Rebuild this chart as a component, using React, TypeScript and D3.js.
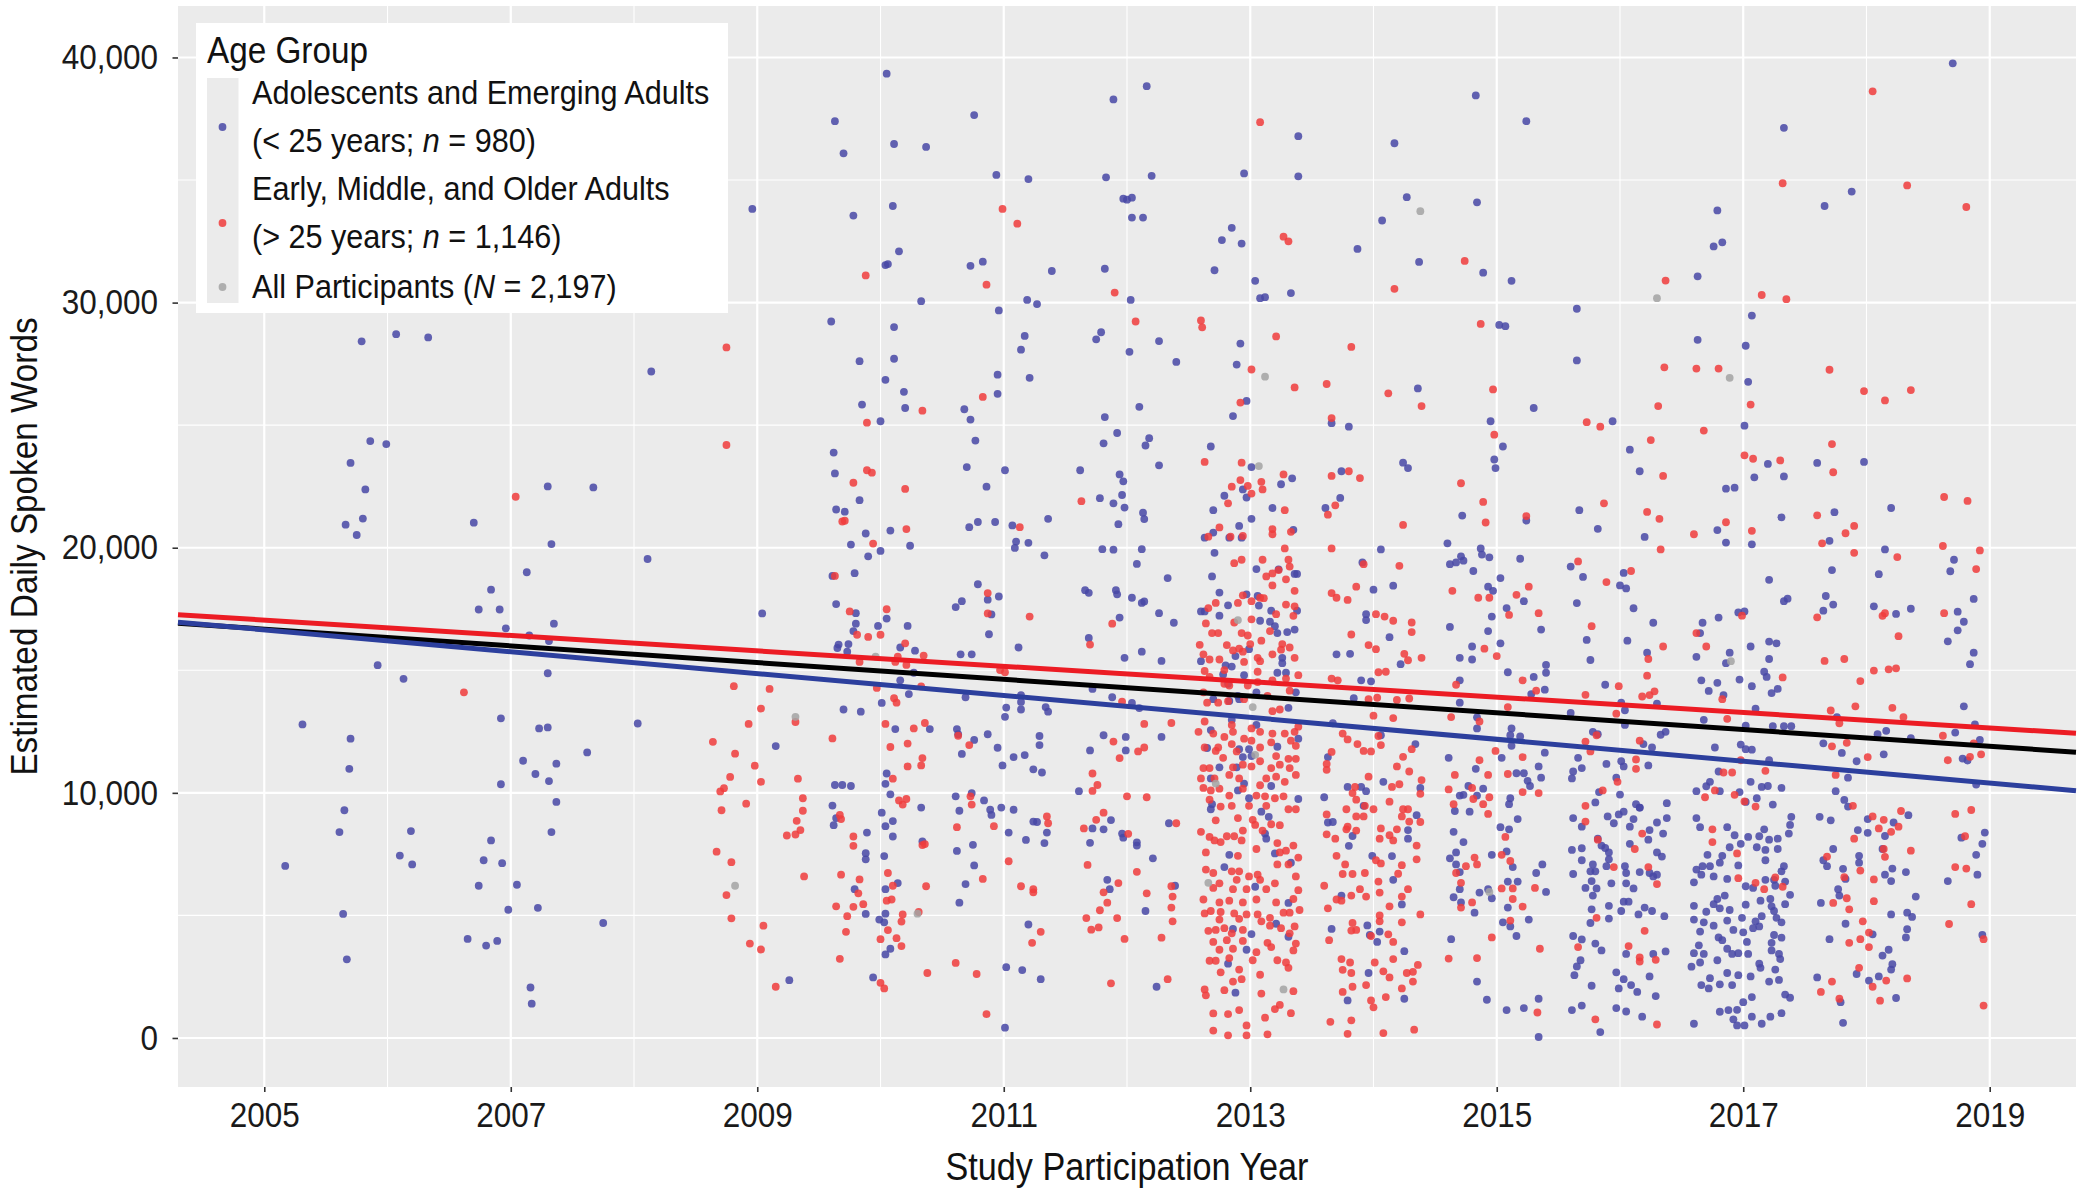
import * as d3 from "d3";
import { useEffect, useRef } from "react";

// each point: [study participation year, estimated daily spoken words in thousands]
const adolescents: [number, number][] = [
  // 2005-2008
  [2005.79,28.42],[2006.07,28.71],[2006.33,28.58],[2005.86,24.35],[2005.99,24.23],[2005.70,23.46],[2005.82,22.38],[2005.80,21.19],[2005.66,20.94],[2005.75,20.52],
  [2006.70,21.02],[2007.30,22.5],[2007.67,22.46],[2007.33,20.15],[2007.13,19.0],[2006.84,18.29],[2006.74,17.48],[2006.91,17.48],[2006.96,16.71],[2007.35,16.9],
  [2007.31,16.19],[2007.15,16.42],[2008.11,19.54],[2008.14,27.19],[2005.92,15.21],[2006.13,14.65],[2007.30,14.88],[2005.31,12.79],[2005.70,12.21],[2005.69,10.98],
  [2005.65,9.29],[2005.61,8.40],[2005.17,7.02],[2005.64,5.06],[2005.67,3.21],[2006.19,8.44],[2006.10,7.44],[2006.20,7.08],[2006.92,13.04],[2007.23,12.63],
  [2007.30,12.67],[2007.10,11.31],[2007.20,10.77],[2007.37,11.19],[2006.92,10.35],[2007.31,10.48],[2007.37,9.63],[2007.62,11.65],[2008.03,12.83],[2007.33,8.40],
  [2006.84,8.06],[2006.78,7.25],[2006.93,7.13],[2006.74,6.21],[2007.05,6.25],[2006.98,5.23],[2007.22,5.31],[2007.75,4.69],[2006.65,4.04],[2006.80,3.77],
  [2006.89,3.96],[2007.16,2.06],[2007.17,1.40],
  // 2009-2012 upper
  [2010.05,39.34],[2009.63,37.40],[2010.76,37.65],[2010.11,36.47],[2010.37,36.35],[2009.70,36.09],[2011.89,38.29],[2012.16,38.83],[2010.94,35.21],[2011.20,35.04],
  [2011.83,35.11],[2012.20,35.17],[2011.97,34.24],[2012.0,34.20],[2012.04,34.28],[2012.04,33.47],[2012.13,33.47],[2008.96,33.82],[2009.78,33.55],[2010.10,33.94],
  [2010.15,32.09],[2010.04,31.53],[2010.06,31.57],[2010.73,31.50],[2010.83,31.67],[2011.39,31.29],[2011.82,31.38],[2010.33,30.06],[2011.19,30.11],[2011.27,29.94],
  [2010.96,29.68],[2012.03,30.11],[2009.60,29.23],[2010.11,29.0],[2011.17,28.64],[2011.14,28.08],[2011.79,28.79],[2011.75,28.50],[2012.26,28.43],[2012.02,27.99],
  [2012.40,27.58],[2009.83,27.61],[2010.11,27.71],[2010.04,26.85],[2010.19,26.36],[2010.95,27.06],[2010.95,26.28],[2011.21,26.93],[2009.85,25.84],[2010.20,25.70],
  [2010.68,25.65],[2010.73,25.23],[2010.0,25.16],[2011.82,25.33],[2012.10,25.75],[2011.92,24.68],[2011.81,24.26],[2012.18,24.47],[2012.15,24.17],[2012.26,23.36],
  [2010.77,24.37],[2009.62,23.88],[2009.63,23.03],[2010.70,23.29],[2011.01,23.16],[2011.62,23.16],[2011.94,22.99],[2011.97,22.71],[2010.86,22.49],[2009.83,21.94],
  [2009.64,21.56],[2009.71,21.47],[2011.78,22.02],[2011.96,22.15],[2011.89,21.81],[2011.98,21.64],[2012.13,21.43],[2012.14,21.17],[2011.36,21.18],[2010.79,21.05],
  [2010.93,21.05],[2010.72,20.84],[2011.07,20.91],[2010.08,20.70],[2009.88,20.58],[2011.93,20.96],[2009.76,20.13],[2010.0,19.87],[2009.90,19.65],[2010.24,20.08],
  [2011.10,20.25],[2011.09,19.99],[2011.20,20.2],[2011.33,19.69],[2011.80,19.94],[2011.89,19.92],[2012.12,19.94],
  // 2009-2012 lower
  [2012.08,19.34],[2009.61,18.85],[2009.79,18.96],[2009.64,17.70],[2009.04,17.32],[2009.80,17.33],[2009.80,16.9],[2009.78,16.6],[2009.98,16.81],[2010.05,17.11],
  [2010.22,16.81],[2009.74,16.07],[2009.66,16.05],[2009.65,15.91],[2009.73,15.76],[2010.16,15.93],[2010.28,15.8],[2010.79,18.51],[2010.66,17.82],[2010.61,17.58],
  [2010.87,17.88],[2010.96,18.01],[2010.90,17.28],[2010.88,16.47],[2010.65,15.65],[2010.74,15.65],[2011.12,15.93],[2011.66,18.27],[2011.69,18.16],[2011.91,18.27],
  [2011.92,18.10],[2012.04,17.96],[2012.12,17.75],[2012.14,17.81],[2011.94,17.15],[2012.26,17.33],[2012.38,16.94],[2011.69,16.32],[2012.33,18.76],[2011.98,15.51],
  [2012.12,15.76],[2012.28,15.38],[2010.16,14.59],[2010.23,14.03],[2010.27,14.9],[2010.01,13.67],[2009.70,13.40],[2009.84,13.31],[2010.69,13.9],[2011.14,13.99],
  [2011.14,13.71],[2011.14,13.4],[2011.02,13.48],[2011.01,13.1],[2011.34,13.5],[2011.36,13.31],[2011.72,14.24],[2011.88,13.9],[2012.04,13.67],[2012.10,13.46],
  [2009.15,11.91],[2010.12,12.6],[2010.40,12.6],[2010.62,12.6],[2010.63,12.39],[2010.76,12.16],[2010.87,12.39],[2010.66,11.59],[2010.95,11.84],[2011.08,11.46],
  [2011.17,11.54],[2010.99,11.12],[2011.29,12.32],[2011.29,11.95],[2011.24,10.96],[2011.31,10.83],[2011.81,12.35],[2011.99,12.28],[2011.99,11.73],[2011.70,11.73],
  [2012.28,12.28],[2010.05,10.79],[2010.04,10.37],[2010.08,9.94],[2009.63,10.32],[2009.69,10.32],[2009.76,10.28],[2009.61,9.48],[2009.64,8.97],[2009.62,8.68],
  [2010.33,9.40],[2010.01,9.19],[2010.10,8.85],[2010.04,8.64],[2010.10,8.22],[2009.89,8.38],[2009.88,7.54],[2009.88,7.29],[2010.03,7.42],[2010.34,8.02],
  [2010.61,9.86],[2010.74,9.99],[2010.84,9.69],[2010.64,9.27],[2010.89,9.31],[2010.90,9.10],[2010.98,9.40],[2011.08,9.31],[2011.04,8.38],[2011.18,8.08],
  [2011.24,8.83],[2011.27,8.81],[2011.35,8.38],[2011.33,7.95],[2010.62,7.63],[2010.75,7.88],[2010.76,7.04],[2011.61,10.07],[2011.72,8.55],[2011.81,8.51],
  [2011.87,8.89],[2011.70,7.96],[2011.96,8.34],[2011.97,8.17],[2012.08,7.98],[2012.08,7.85],[2012.21,7.33],[2012.34,8.76],[2012.39,6.21],[2011.84,6.45],
  [2011.86,6.07],[2012.15,5.18],[2009.79,6.07],[2010.14,6.32],[2010.04,6.07],[2009.88,5.06],[2010.04,5.07],[2009.99,4.83],[2010.03,4.72],[2010.69,6.28],
  [2010.64,5.52],[2011.20,4.63],[2010.08,3.64],[2010.04,3.41],[2009.94,2.47],[2009.26,2.36],[2011.02,2.89],[2011.15,2.77],[2011.30,2.4],[2012.24,2.09],
  [2011.01,0.42],
  // 2013-2019 upper
  [2018.70,39.76],[2014.83,38.45],[2015.24,37.40],[2013.39,36.79],[2014.17,36.50],[2017.33,37.13],[2012.95,35.27],[2013.39,35.15],[2014.27,34.30],[2014.84,34.09],
  [2014.07,33.35],[2012.85,33.05],[2012.77,32.55],[2012.93,32.41],[2013.87,32.19],[2012.71,31.32],[2013.04,30.89],[2013.08,30.18],[2013.12,30.22],[2013.33,30.39],
  [2014.37,31.66],[2014.89,31.22],[2015.12,30.89],[2016.79,33.76],[2016.76,32.29],[2016.83,32.46],[2017.66,33.94],[2017.88,34.53],[2016.63,31.07],[2015.65,29.75],
  [2015.02,29.09],[2015.07,29.04],[2017.07,29.47],[2016.63,28.48],[2017.02,28.24],[2012.92,28.33],[2012.89,27.47],[2015.65,27.64],[2017.04,26.77],[2014.36,26.5],
  [2012.97,25.99],[2012.86,25.37],[2015.30,25.70],[2013.66,25.08],[2013.80,24.94],[2014.95,25.16],[2015.94,25.16],[2017.01,24.98],[2012.68,24.13],[2013.01,23.29],
  [2013.34,22.83],[2013.74,23.12],[2014.24,23.47],[2014.28,23.25],[2015.05,24.13],[2014.98,23.6],[2014.99,23.25],[2016.08,24.0],[2016.16,23.12],[2017.09,22.87],
  [2017.20,23.42],[2017.33,22.91],[2017.60,23.46],[2017.98,23.50],[2016.86,22.41],[2016.93,22.45],[2013.25,22.59],[2012.97,22.05],[2012.94,22.38],[2012.79,22.12],
  [2012.70,21.53],[2013.18,21.62],[2013.61,21.62],[2013.73,22.03],[2013.01,21.18],[2014.72,21.31],[2015.24,21.11],[2015.67,21.53],[2015.82,20.77],[2017.74,21.45],
  [2018.20,21.62],[2017.31,21.24],[2016.79,20.72],[2016.20,20.44],[2012.91,20.89],[2012.70,20.62],[2012.63,20.41],[2012.83,20.41],[2012.93,20.41],[2013.35,20.73],
  // 2013 cluster
  [2012.71,19.79],[2012.69,18.83],[2013.05,19.13],[2013.23,19.12],[2013.36,18.93],[2013.38,18.93],[2012.75,18.17],[2012.97,18.1],[2013.06,18.03],[2012.82,17.65],
  [2013.07,17.64],[2012.60,17.4],[2012.63,17.4],[2012.75,17.23],[2013.17,17.43],[2013.38,17.43],[2013.08,17.02],[2013.16,16.98],[2013.20,16.8],[2013.22,16.52],
  [2013.30,16.56],[2013.36,16.66],[2012.99,15.86],[2012.80,15.2],[2012.85,15.15],[2012.88,15.58],[2013.26,15.51],[2013.26,15.29],[2012.60,15.37],[2013.22,14.9],
  [2013.29,14.9],[2012.78,14.83],[2012.95,14.8],[2012.82,14.45],[2012.90,13.96],[2012.70,13.82],[2012.83,13.75],[2012.91,13.82],[2013.05,14.1],[2013.31,13.47],
  [2013.37,14.1],[2012.68,12.56],[2013.05,12.77],[2012.85,12.98],[2013.39,12.21],[2012.65,11.83],[2012.91,11.78],[2012.99,11.78],[2013.22,11.88],[2012.75,11.04],
  [2012.89,11.04],[2013.01,11.5],[2012.94,11.46],[2012.68,10.59],[2012.95,10.38],[2013.17,10.28],[2012.90,10.1],[2012.99,9.78],[2013.39,9.75],[2012.69,9.54],
  [2012.68,9.33],[2013.09,9.23],[2013.15,9.02],[2013.12,8.34],[2013.13,8.13],[2012.83,7.47],[2013.20,7.53],[2013.33,7.15],[2012.79,6.97],[2013.04,6.17],
  [2013.31,5.51],[2013.21,4.66],[2012.86,4.45],[2013.01,4.24],[2013.31,4.13],[2012.97,3.6],[2012.82,3.03],[2012.88,1.85],
  // 2014 cluster
  [2014.06,19.93],[2013.91,19.4],[2014.0,18.29],[2014.16,18.45],[2013.94,17.29],[2013.94,17.05],[2014.13,16.35],[2013.70,15.65],[2013.81,15.67],[2014.22,15.25],
  [2013.90,14.59],[2013.98,14.55],[2013.84,13.86],[2013.67,12.84],[2014.06,12.35],[2014.34,11.99],[2013.63,11.46],[2013.79,10.24],[2013.90,10.24],[2013.94,10.07],
  [2014.08,10.45],[2014.38,10.2],[2013.60,9.82],[2013.92,9.47],[2013.63,8.79],[2013.67,8.81],[2013.83,8.24],[2013.80,7.84],[2014.28,8.48],[2014.28,8.13],
  [2014.35,9.09],[2013.99,7.43],[2014.15,7.42],[2014.16,6.45],[2013.74,5.81],[2014.23,5.45],[2013.66,4.45],[2013.95,4.59],[2014.05,4.34],[2013.97,4.2],
  [2014.03,3.92],[2014.25,3.54],[2013.96,2.65],[2013.79,1.53],[2014.25,1.6],
  // 2015 cluster
  [2014.60,20.18],[2014.62,19.33],[2014.67,19.4],[2014.71,19.65],[2014.73,19.47],[2014.87,19.97],[2014.88,19.72],[2014.94,19.61],[2014.81,19.05],[2015.19,19.55],
  [2015.03,18.76],[2014.93,18.41],[2014.97,18.24],[2015.22,17.82],[2015.08,17.54],[2014.96,17.19],[2014.93,16.6],[2015.03,16.1],[2014.80,15.97],[2014.62,16.77],
  [2014.70,15.51],[2014.80,15.44],[2015.36,16.66],[2015.40,15.22],[2015.40,14.9],[2015.09,14.92],[2015.30,14.73],[2015.39,14.21],[2014.70,14.59],[2014.70,13.68],
  [2015.28,14.03],[2014.84,13.08],[2014.84,12.63],[2015.12,12.63],[2015.11,12.35],[2015.19,12.3],[2015.12,11.92],[2015.39,11.64],[2014.61,11.43],[2014.83,10.98],
  [2015.04,11.43],[2015.16,10.8],[2015.22,10.8],[2015.25,10.49],[2015.27,10.28],[2015.36,10.62],[2015.34,11.08],[2014.77,10.28],[2014.89,10.17],[2014.70,9.89],
  [2014.73,9.92],[2014.84,9.89],[2015.11,9.78],[2015.10,9.54],[2014.66,9.26],[2014.78,9.23],[2015.03,8.6],[2015.17,8.93],[2015.10,8.51],[2014.65,8.41],
  [2014.73,7.99],[2014.62,7.33],[2014.67,7.57],[2014.67,7.08],[2014.70,6.77],[2014.96,7.47],[2015.08,7.61],[2015.13,6.97],[2015.37,7.08],[2015.32,6.73],
  [2014.70,6.07],[2014.86,5.93],[2014.93,6.07],[2014.96,5.7],[2015.09,6.38],[2015.17,6.38],[2015.40,5.96],[2014.65,5.74],[2014.71,5.53],[2014.82,5.11],
  [2015.09,5.32],[2015.05,4.72],[2015.11,4.55],[2015.16,4.16],[2015.26,4.83],[2014.63,4.03],[2014.84,2.3],[2014.92,1.56],[2015.08,1.14],[2015.22,1.22],
  [2015.34,1.6],[2015.34,0.04],
  // 2016 cluster
  [2015.60,19.23],[2015.70,18.81],[2015.65,17.74],[2015.73,16.24],[2015.76,15.42],[2016.03,18.97],[2016.0,18.46],[2016.05,18.34],[2016.11,17.53],[2016.06,16.21],
  [2015.60,13.26],[2015.88,14.41],[2016.01,13.68],[2016.04,13.37],[2015.78,12.49],[2015.82,12.39],[2016.04,12.77],[2015.66,11.43],[2015.62,10.87],[2015.69,11.01],
  [2015.61,10.59],[2015.89,11.18],[2016.01,11.29],[2016.03,11.08],[2015.97,10.62],[2015.83,10.03],[2016.0,9.93],[2015.80,9.61],[2016.13,9.54],[2016.16,9.4],
  [2015.62,8.97],[2015.69,8.62],[2015.90,9.04],[2015.95,8.76],[2015.99,9.12],[2016.03,9.23],[2016.08,8.62],[2016.11,8.93],[2015.82,8.13],[2015.85,7.85],
  [2015.88,7.75],[2015.91,7.57],[2016.08,7.92],[2015.61,7.67],[2015.69,7.74],[2015.69,7.25],[2015.91,7.29],[2015.89,7.01],[2015.78,7.08],[2015.80,6.8],
  [2015.76,6.8],[2016.04,7.01],[2016.05,6.73],[2015.62,6.69],[2015.77,6.4],[2015.72,6.12],[2015.78,5.81],[2015.93,6.31],[2016.05,6.31],[2016.11,6.1],
  [2015.81,6.1],[2016.03,5.56],[2016.07,5.56],[2016.01,5.18],[2015.91,5.39],[2015.77,5.25],[2015.91,4.87],[2016.15,5.04],[2015.76,4.69],[2015.62,4.16],
  [2015.69,4.02],[2015.80,3.85],[2015.85,3.57],[2015.68,3.17],[2015.65,2.92],[2015.63,2.56],[2015.77,2.13],[2015.97,2.68],[2016.03,2.4],[2015.99,2.02],
  [2016.05,3.43],[2016.09,2.16],[2016.14,1.88],[2015.61,1.14],[2015.69,1.32],[2015.84,0.24],[2015.97,1.22],[2016.05,1.08],
  [2016.27,16.94],[2016.22,15.72],[2016.30,13.64],[2016.37,12.49],[2016.33,12.37],[2016.19,11.99],[2016.26,11.85],[2016.23,11.12],[2016.16,9.4],[2016.30,8.79],
  [2016.38,9.58],[2016.38,8.97],[2016.24,8.48],[2016.23,8.09],[2016.35,8.34],[2016.30,7.57],[2016.34,7.4],[2016.16,6.77],[2016.24,6.73],[2016.27,6.59],
  [2016.30,6.66],[2016.20,5.32],[2016.26,5.18],[2016.36,4.97],[2016.27,3.43],[2016.37,3.53],[2016.24,2.51],[2016.29,1.71],[2016.18,0.87],
  // 2017 cluster
  [2016.86,20.21],[2017.07,20.14],[2017.21,18.69],[2017.33,17.82],[2017.36,17.92],[2016.67,16.94],[2016.80,17.15],[2016.96,17.36],[2017.01,17.4],[2016.65,16.52],
  [2016.62,15.55],[2016.89,15.72],[2016.86,15.29],[2017.06,15.97],[2017.21,16.17],[2017.27,16.1],[2017.21,15.46],[2017.17,14.94],[2017.19,14.73],[2016.66,14.59],
  [2016.79,14.49],[2016.72,14.16],[2016.84,13.99],[2016.97,14.62],[2017.07,14.35],[2017.23,14.07],[2017.28,14.24],[2017.10,13.43],[2016.68,12.98],[2017.02,12.74],
  [2017.24,12.72],[2017.33,12.72],[2017.39,12.72],[2016.77,11.85],[2016.98,11.97],[2017.02,11.78],[2017.07,11.76],[2017.21,11.33],[2016.80,10.87],[2016.62,10.07],
  [2016.70,10.27],[2016.73,10.45],[2016.81,10.07],[2016.97,10.03],[2017.06,10.45],[2017.15,10.24],[2017.20,10.28],[2017.31,10.2],[2017.11,9.78],[2017.24,9.52],
  [2017.02,9.63],[2016.62,8.97],[2016.65,8.6],[2016.87,8.6],[2016.93,8.27],[2017.04,8.2],[2017.13,8.23],[2017.17,8.51],[2017.21,8.09],[2017.28,8.13],
  [2017.37,8.34],[2017.38,8.69],[2017.39,9.02],[2016.71,7.47],[2016.81,7.15],[2016.83,7.43],[2016.89,7.78],[2016.98,7.92],[2017.11,7.78],[2017.18,7.67],
  [2017.28,7.71],[2017.18,7.25],[2016.96,7.04],[2016.62,6.87],[2016.67,7.01],[2016.73,7.01],[2016.66,6.66],[2016.76,6.59],[2016.60,6.35],[2016.87,6.49],
  [2017.02,6.19],[2017.08,6.12],[2017.18,6.45],[2017.25,6.45],[2017.26,6.21],[2017.31,6.8],[2017.33,7.01],[2017.34,6.38],[2017.38,5.84],[2016.79,5.67],
  [2016.85,5.81],[2016.76,5.46],[2016.81,5.29],[2016.89,5.22],[2016.60,5.39],[2016.70,5.15],[2017.02,5.44],[2017.14,5.6],[2017.22,5.67],[2017.23,5.37],
  [2017.25,5.18],[2017.34,5.46],[2016.60,4.83],[2016.68,4.72],[2016.76,4.58],[2016.87,4.79],[2016.99,4.9],[2017.10,4.76],[2017.08,4.48],[2017.13,4.55],
  [2017.15,4.97],[2017.27,4.9],[2017.31,4.72],[2016.65,4.34],[2016.80,4.1],[2016.83,3.99],[2016.92,4.41],[2017.0,4.31],[2017.03,3.92],[2017.25,4.2],
  [2017.31,4.09],[2017.23,3.88],[2016.64,3.78],[2016.60,3.46],[2016.68,3.43],[2016.87,3.64],[2016.91,3.43],[2016.96,3.46],[2017.04,3.43],[2017.13,3.03],
  [2017.23,3.57],[2017.29,3.43],[2017.30,3.22],[2016.58,2.91],[2016.65,3.08],[2016.79,3.17],[2016.87,2.65],[2016.96,2.56],[2017.06,2.51],[2017.14,2.86],
  [2017.26,2.79],[2016.73,2.44],[2016.66,2.16],[2016.72,2.02],[2016.81,2.19],[2016.91,2.16],[2017.21,2.3],[2017.29,2.37],[2017.34,1.77],[2017.38,1.64],
  [2017.07,1.67],[2017.0,1.46],[2016.81,1.07],[2016.88,1.14],[2016.95,1.15],[2016.92,0.76],[2016.95,0.51],[2017.01,0.51],[2017.07,0.87],[2017.15,0.58],
  [2017.22,0.87],[2017.31,1.01],[2016.60,0.58],
  // 2018 cluster
  [2017.72,19.09],[2017.67,18.03],[2017.73,17.68],[2017.65,17.43],[2018.06,17.61],[2018.10,18.92],[2018.15,19.93],[2018.24,17.3],[2018.36,17.51],[2017.70,20.28],
  [2017.76,13.09],[2017.65,12.02],[2017.80,11.63],[2017.92,11.29],[2017.85,10.62],[2018.09,12.39],[2018.16,12.53],[2018.14,11.57],[2018.36,12.23],[2017.75,10.07],
  [2017.82,9.71],[2017.85,9.44],[2017.62,9.02],[2017.71,8.88],[2018.01,8.93],[2017.93,8.48],[2018.01,8.37],[2018.15,8.24],[2018.22,8.79],[2018.34,9.09],
  [2017.73,7.71],[2017.65,7.25],[2017.68,7.01],[2017.81,6.9],[2017.83,6.49],[2017.94,7.43],[2017.94,7.15],[2018.13,7.71],[2018.15,6.66],[2018.20,6.4],
  [2018.21,6.91],[2018.32,6.77],[2017.77,6.07],[2017.78,5.81],[2017.63,5.51],[2017.83,4.66],[2017.70,4.03],[2018.05,4.23],[2018.20,5.04],[2018.33,5.11],
  [2018.37,4.94],[2018.40,5.77],[2018.33,4.44],[2018.32,4.1],[2018.18,3.6],[2018.13,3.36],[2018.21,3.01],[2018.20,2.79],[2017.60,2.47],[2017.92,2.61],
  [2018.02,2.34],[2018.10,2.51],[2017.79,1.46],[2017.81,0.62],[2018.24,1.63],
  // 2019 cluster
  [2018.71,19.51],[2018.68,19.04],[2018.87,17.91],[2018.74,17.39],[2018.79,16.98],[2018.74,16.63],[2018.66,16.18],[2018.87,15.72],[2018.84,15.25],[2018.79,13.53],
  [2018.72,12.46],[2018.88,12.79],[2018.92,12.16],[2018.78,11.4],[2018.82,11.32],[2018.89,10.34],[2018.77,8.17],[2018.96,8.38],[2018.94,7.92],[2018.89,7.47],
  [2018.90,6.66],[2018.66,6.4],[2018.94,4.2],
];

const adults: [number, number][] = [
  // 2005-2009
  [2007.04,22.08],[2006.62,14.1],[2008.75,28.17],[2008.75,24.19],[2008.81,14.35],[2008.64,12.08],[2008.82,11.6],[2008.78,10.65],[2008.73,10.19],[2008.70,10.06],
  [2008.71,9.29],[2008.67,7.6],[2008.79,7.17],[2008.75,5.83],[2008.79,4.88],
  // 2009-2012
  [2010.99,33.82],[2011.11,33.22],[2009.88,31.11],[2010.86,30.73],[2011.90,30.41],[2012.07,29.23],[2010.83,26.15],[2010.34,25.59],[2009.89,25.10],[2009.89,23.16],
  [2009.93,23.06],[2009.78,22.65],[2010.20,22.40],[2011.63,21.9],[2009.69,21.07],[2009.71,21.10],[2010.21,20.76],[2011.13,20.84],[2009.94,20.17],
  [2009.63,18.85],[2009.75,17.40],[2010.05,17.49],[2009.81,16.45],[2009.90,16.36],[2010.0,16.45],[2010.20,16.1],[2010.14,15.56],[2010.12,15.34],[2010.35,15.6],
  [2009.83,15.34],[2010.21,15.22],[2010.87,18.15],[2010.87,17.32],[2011.21,17.19],[2011.88,16.9],[2011.70,16.05],[2010.97,15.01],[2011.01,14.92],[2009.97,14.28],
  [2010.11,13.86],[2010.13,13.68],[2010.33,14.34],[2009.10,14.24],[2009.03,13.44],[2008.93,12.81],[2009.31,12.89],[2009.61,12.22],[2008.98,11.11],[2009.03,10.45],
  [2009.33,10.58],[2008.91,9.56],[2009.37,9.78],[2009.37,9.27],[2009.32,8.86],[2009.35,8.48],[2009.31,8.30],[2009.24,8.26],[2009.38,6.59],[2009.05,4.58],
  [2008.94,3.85],[2009.03,3.61],[2009.15,2.09],[2010.04,12.81],[2010.27,12.63],[2010.36,12.85],[2010.08,11.87],[2010.22,12.01],[2010.22,11.08],[2010.33,11.12],
  [2010.34,11.42],[2010.10,10.58],[2010.15,9.69],[2010.18,9.52],[2010.21,9.75],[2009.78,8.22],[2009.78,7.84],[2009.67,9.1],[2009.68,8.93],[2010.34,7.87],
  [2010.36,7.91],[2010.06,6.73],[2010.10,6.21],[2009.68,6.66],[2009.83,6.47],[2009.82,5.9],[2009.86,5.46],[2009.78,5.35],[2009.64,5.37],[2009.73,4.97],
  [2009.72,4.33],[2010.09,5.65],[2010.05,5.6],[2010.18,5.04],[2010.17,4.75],[2010.06,4.4],[2010.0,4.03],[2010.13,4.07],[2010.17,3.75],[2010.31,5.14],
  [2010.37,6.19],[2009.67,3.23],[2010.0,2.25],[2010.03,2.02],[2010.38,2.65],[2010.62,8.6],[2010.92,8.64],[2010.73,9.86],[2010.74,9.52],[2010.63,12.33],
  [2010.72,11.95],[2010.83,6.49],[2011.04,7.21],[2011.14,6.19],[2011.24,6.07],[2011.24,5.94],[2011.30,4.33],[2011.23,3.88],[2010.61,3.06],[2010.78,2.61],
  [2010.86,0.97],[2011.35,9.04],[2011.36,8.76],[2012.14,12.81],[2012.36,12.85],[2011.89,12.09],[2011.94,11.42],[2012.09,11.69],[2012.14,11.85],[2011.72,10.79],
  [2011.76,10.32],[2011.72,10.08],[2012.0,9.86],[2012.16,9.82],[2011.81,9.19],[2011.75,8.9],[2011.65,8.55],[2012.01,8.33],[2012.40,8.76],[2011.68,7.06],
  [2012.08,6.78],[2011.93,6.32],[2011.81,5.94],[2011.84,5.52],[2011.78,5.21],[2012.16,5.9],[2012.36,6.19],[2012.37,5.77],[2012.36,5.32],[2012.37,4.76],
  [2011.67,4.89],[2011.71,4.42],[2011.77,4.51],[2011.92,4.89],[2011.98,4.04],[2012.28,4.09],[2011.87,2.23],[2012.33,2.4],[2011.96,13.72],
  // 2013-2019 upper
  [2018.05,38.62],[2013.08,37.36],[2017.32,34.87],[2018.33,34.78],[2018.81,33.90],[2013.27,32.69],[2013.31,32.5],[2014.74,31.7],[2014.17,30.56],[2016.37,30.9],
  [2017.15,30.31],[2017.35,30.14],[2012.60,29.27],[2012.61,28.99],[2013.21,28.62],[2013.82,28.19],[2014.87,29.13],[2013.01,27.27],[2013.36,26.54],[2013.62,26.68],
  [2014.12,26.3],[2014.39,25.78],[2014.97,26.46],[2016.36,27.36],[2016.62,27.31],[2016.80,27.31],[2017.70,27.26],[2017.98,26.39],[2018.15,26.01],[2018.36,26.43],
  [2016.31,25.78],[2017.06,25.84],[2012.92,25.92],[2013.66,25.29],[2015.73,25.12],[2015.84,24.94],[2014.98,24.61],[2016.68,24.78],[2016.25,24.39],[2017.72,24.23],
  [2017.01,23.77],[2017.08,23.63],[2017.30,23.56],[2017.73,23.08],[2016.35,22.93],[2012.63,23.50],[2012.93,23.47],[2013.27,22.99],[2013.66,22.93],[2013.80,23.12],
  [2013.89,22.84],[2012.92,22.76],[2013.09,22.69],[2012.98,22.52],[2013.10,22.38],[2012.85,22.49],[2013.01,22.21],[2012.82,21.81],[2013.28,21.53],[2013.69,21.73],
  [2013.63,21.35],[2014.71,22.63],[2014.89,21.87],[2014.91,21.03],[2015.24,21.29],[2014.24,20.93],[2015.87,21.81],[2016.22,21.46],[2016.32,21.18],[2016.86,21.04],
  [2017.07,20.69],[2016.60,20.55],[2017.60,21.32],[2017.90,20.89],[2017.83,20.59],[2018.63,22.07],[2018.82,21.91],[2012.75,20.83],[2012.66,20.45],[2012.84,20.45],
  [2012.94,20.48],[2013.18,20.76],[2013.18,20.55],[2013.33,20.65],
  // 2013 cluster
  [2013.28,19.97],[2012.87,19.37],[2012.93,19.51],[2013.10,19.51],[2013.31,19.51],[2013.32,19.23],[2013.13,18.83],[2013.29,18.71],[2013.18,18.95],[2013.23,19.09],
  [2013.18,18.46],[2013.36,18.24],[2012.72,17.75],[2012.94,18.06],[2013.01,17.82],[2013.11,17.94],[2013.08,17.96],[2013.29,17.68],[2013.36,17.61],[2012.90,17.75],
  [2012.66,17.54],[2012.64,16.91],[2012.87,16.95],[2013.01,17.08],[2013.21,17.29],[2013.35,17.22],[2013.09,16.21],[2012.69,16.52],[2012.74,16.52],[2012.93,16.52],
  [2012.98,16.42],[2013.16,16.6],[2012.59,16.04],[2012.81,16.03],[2012.86,15.81],[2012.91,15.88],[2012.94,15.76],[2013.0,16.07],[2013.26,16.07],[2013.32,15.93],
  [2012.62,15.65],[2012.67,15.44],[2012.75,15.44],[2013.06,15.51],[2013.08,15.37],[2013.36,15.51],[2013.18,15.65],[2012.63,14.97],[2012.79,15.01],[2012.95,15.34],
  [2013.06,14.94],[2013.25,15.84],[2012.67,14.73],[2012.79,14.45],[2012.83,14.38],[2012.98,14.38],[2013.06,14.52],[2013.18,14.59],[2013.29,14.66],[2012.62,14.1],
  [2012.74,13.68],[2012.82,13.74],[2012.95,13.82],[2013.14,13.96],[2013.32,14.17],[2013.39,14.8],[2013.24,13.4],[2013.18,13.33],[2012.65,13.68],[2012.63,12.91],
  [2012.85,12.77],[2013.01,12.63],[2013.39,12.7],[2012.70,12.42],[2012.79,12.28],[2012.86,12.49],[2012.95,12.21],[2013.08,12.49],[2013.18,12.42],[2013.28,12.42],
  [2013.36,12.49],[2012.63,11.85],[2012.74,11.85],[2012.85,11.99],[2013.01,12.13],[2013.08,11.85],[2013.17,12.06],[2013.33,12.13],[2013.37,11.92],[2012.58,12.49],
  [2012.72,11.71],[2012.78,11.43],[2012.89,11.69],[2013.08,11.29],[2013.21,11.5],[2013.24,11.15],[2013.31,11.39],[2013.37,11.39],[2012.62,11.01],[2012.67,11.01],
  [2012.86,11.04],[2012.94,11.15],[2013.01,11.08],[2013.17,11.01],[2013.32,11.01],[2012.60,10.59],[2012.71,10.59],[2012.83,10.73],[2012.91,10.59],[2013.13,10.59],
  [2013.21,10.66],[2013.28,10.45],[2013.37,10.73],[2013.08,10.31],[2012.62,10.2],[2012.68,10.1],[2012.75,10.17],[2012.83,9.89],[2012.94,10.17],[2013.05,9.89],
  [2013.12,9.86],[2013.20,9.78],[2013.27,9.86],[2012.67,9.72],[2012.76,9.44],[2012.85,9.47],[2012.99,9.47],[2013.13,9.47],[2013.31,9.33],[2012.72,8.88],
  [2012.90,8.97],[2013.02,8.9],[2013.17,8.72],[2013.24,8.68],[2013.37,9.33],[2012.60,8.41],[2012.67,8.2],[2012.76,7.99],[2012.81,8.23],[2012.87,8.23],
  [2012.94,8.46],[2013.04,8.69],[2013.10,8.46],[2013.22,7.95],[2013.29,7.64],[2013.35,7.85],[2012.64,7.57],[2012.71,8.06],[2012.93,8.06],[2012.90,7.43],
  [2013.05,7.71],[2013.24,7.57],[2013.39,7.36],[2013.22,7.08],[2012.64,6.87],[2012.70,6.73],[2012.85,6.8],[2012.91,6.8],[2013.06,6.66],[2013.31,7.08],
  [2013.37,6.59],[2012.75,6.31],[2012.89,6.45],[2012.99,6.59],[2013.08,6.45],[2013.20,6.31],[2012.70,6.12],[2012.86,6.07],[2012.97,6.07],[2013.13,6.07],
  [2013.39,6.03],[2012.62,5.65],[2012.75,5.53],[2012.83,5.6],[2012.94,5.53],[2013.05,5.65],[2013.21,5.53],[2013.35,5.67],[2012.63,5.08],[2012.68,5.18],
  [2012.76,5.14],[2012.87,5.08],[2012.97,5.04],[2013.06,5.04],[2013.16,4.9],[2013.27,5.11],[2013.32,5.11],[2013.40,5.22],[2012.75,4.83],[2012.91,4.86],
  [2013.09,4.76],[2012.66,4.37],[2012.72,4.41],[2012.79,4.48],[2012.85,4.27],[2012.94,4.41],[2013.16,4.58],[2013.25,4.48],[2013.36,4.55],[2012.70,3.92],
  [2012.81,3.99],[2012.94,3.96],[2013.14,3.88],[2013.32,4.27],[2013.37,3.85],[2012.75,3.6],[2012.86,3.64],[2013.05,3.5],[2013.17,3.71],[2013.35,3.57],
  [2012.67,3.15],[2012.72,3.15],[2012.83,3.26],[2013.02,3.17],[2013.22,3.17],[2013.29,3.08],[2012.76,2.68],[2012.91,2.79],[2013.08,2.58],[2013.31,2.86],
  [2012.86,2.3],[2012.93,2.4],[2012.63,1.98],[2012.79,1.95],[2012.64,1.74],[2013.09,1.81],[2013.35,1.91],[2013.20,1.18],[2012.91,1.14],[2012.70,1.0],
  [2012.82,0.97],[2013.24,1.35],[2013.33,1.01],[2013.12,0.83],[2012.97,0.51],[2012.70,0.3],[2012.82,0.11],[2012.97,0.11],[2013.14,0.15],
  // 2014 cluster
  [2013.66,19.97],[2013.86,18.41],[2013.66,18.15],[2013.70,17.96],[2013.79,17.87],[2014.21,19.26],[2013.92,19.33],[2013.82,16.46],[2013.96,16.03],[2014.02,17.29],
  [2014.09,17.19],[2014.16,17.02],[2014.31,16.95],[2014.31,16.56],[2014.02,15.86],[2014.25,15.67],[2014.28,15.41],[2014.39,15.51],[2014.04,14.92],[2014.10,14.94],
  [2013.66,14.66],[2013.71,14.59],[2013.96,13.82],[2014.03,13.88],[2014.19,13.79],[2014.29,13.85],[2014.0,13.15],[2014.16,13.05],[2013.75,12.42],[2013.79,12.18],
  [2013.87,11.99],[2013.92,11.71],[2013.98,11.69],[2014.04,12.32],[2014.06,11.95],[2014.24,11.47],[2014.31,11.78],[2013.66,11.67],[2013.62,11.18],[2013.62,10.94],
  [2013.96,10.66],[2014.19,11.08],[2014.29,10.87],[2014.39,10.52],[2013.85,10.24],[2013.83,9.99],[2013.86,9.72],[2013.93,9.47],[2014.0,9.33],[2014.13,9.64],
  [2014.15,10.24],[2014.21,10.35],[2014.24,9.33],[2014.28,9.33],[2014.38,9.96],[2013.62,9.12],[2013.78,9.33],[2013.86,9.04],[2013.92,9.04],[2014.06,8.55],
  [2014.13,8.27],[2014.16,8.06],[2014.19,8.51],[2014.23,9.04],[2014.29,8.83],[2014.35,7.85],[2014.38,8.81],[2013.79,8.62],[2013.86,8.46],[2013.62,8.31],
  [2013.69,8.13],[2013.78,8.51],[2014.05,8.13],[2013.77,7.08],[2013.70,7.43],[2014.02,7.25],[2014.06,7.12],[2014.23,7.05],[2014.35,7.29],[2013.75,6.69],
  [2013.83,6.69],[2013.93,6.73],[2014.20,6.7],[2013.60,6.21],[2013.70,5.65],[2013.82,5.81],[2013.89,6.07],[2013.94,5.77],[2014.04,6.38],[2014.05,5.93],
  [2014.13,5.37],[2014.23,5.77],[2014.28,6.07],[2013.63,5.29],[2013.83,4.69],[2013.82,4.38],[2013.86,4.41],[2013.98,4.16],[2014.05,5.0],[2014.05,4.76],
  [2014.12,4.23],[2014.16,3.92],[2014.23,4.72],[2014.38,5.04],[2013.64,3.99],[2013.74,3.22],[2013.81,3.08],[2013.82,2.65],[2013.75,2.78],[2014.01,3.08],
  [2014.08,2.72],[2014.13,2.47],[2014.16,3.22],[2014.27,2.65],[2014.32,2.7],[2014.32,2.3],[2013.75,1.88],[2013.83,2.09],[2013.94,2.16],[2013.98,1.53],
  [2014.0,1.25],[2014.10,1.67],[2014.23,2.02],[2013.65,0.66],[2013.82,0.72],[2013.79,0.17],[2014.08,0.2],[2014.33,0.34],[2014.36,2.98],[2013.74,5.6],
  // 2015 cluster
  [2014.64,18.24],[2014.85,17.96],[2014.94,17.96],[2015.16,18.08],[2015.26,18.41],[2015.34,17.33],[2015.10,17.26],[2014.90,15.88],[2015.0,15.58],[2015.21,14.59],
  [2015.32,14.17],[2014.67,14.41],[2015.09,13.5],[2014.86,12.91],[2014.63,13.09],[2014.99,11.71],[2015.21,11.46],[2014.86,11.33],[2014.66,10.73],[2014.93,10.73],
  [2015.09,10.77],[2015.21,10.03],[2015.34,9.99],[2014.61,10.14],[2014.80,10.2],[2014.81,9.75],[2014.94,9.82],[2014.89,9.54],[2014.65,9.54],[2014.93,9.14],
  [2015.07,8.2],[2014.82,7.36],[2014.84,7.08],[2015.04,7.47],[2015.11,7.22],[2014.67,6.73],[2014.75,7.01],[2014.71,6.33],[2015.04,6.1],[2015.13,6.1],
  [2015.31,6.12],[2014.80,5.53],[2015.13,5.67],[2015.21,5.36],[2014.71,5.32],[2014.96,4.1],[2015.11,4.79],[2015.35,3.64],[2014.61,3.24],[2014.84,3.26],
  [2015.33,1.04],
  // 2016 cluster
  [2015.66,19.44],[2015.89,18.6],[2016.09,19.05],[2015.77,16.8],[2015.99,14.35],[2015.72,14.0],[2015.97,13.23],[2015.81,12.35],[2015.72,12.09],[2015.76,11.69],
  [2015.86,10.1],[2015.98,10.45],[2015.72,9.47],[2015.72,8.83],[2015.82,8.09],[2015.95,6.97],[2015.81,4.9],[2015.66,3.71],[2016.07,3.75],[2015.80,0.76],
  [2016.13,10.98],[2016.13,11.36],[2016.12,7.71],[2016.16,3.29],
  [2016.33,19.93],[2016.35,15.97],[2016.23,15.46],[2016.22,14.78],[2016.18,13.93],[2016.24,13.99],[2016.28,14.14],[2016.16,12.13],[2016.18,8.34],[2016.23,6.97],
  [2016.30,6.28],[2016.20,4.37],[2016.29,3.19],[2016.16,3.12],[2016.30,0.55],
  // 2017 cluster
  [2016.62,16.52],[2016.99,17.23],[2016.70,15.97],[2016.83,13.82],[2016.87,13.02],[2017.32,14.71],[2016.84,10.83],[2016.91,10.83],[2017.18,10.9],[2016.98,11.33],
  [2016.77,10.1],[2016.93,9.92],[2016.69,9.82],[2017.01,9.65],[2017.10,9.44],[2016.75,8.51],[2016.75,7.99],[2016.95,7.53],[2016.96,6.52],[2017.10,6.33],
  [2017.17,6.07],[2017.26,6.55],[2017.32,6.17],
  // 2018 cluster
  [2017.64,20.18],[2017.90,19.79],[2018.25,19.62],[2017.60,17.16],[2018.13,17.22],[2018.15,17.33],[2018.26,16.39],[2017.66,15.38],[2017.82,15.46],[2018.06,14.99],
  [2018.18,15.04],[2018.24,15.08],[2017.95,14.56],[2017.91,13.53],[2018.21,13.47],[2018.30,13.09],[2017.71,13.36],[2017.78,12.84],[2017.72,11.9],[2017.84,12.04],
  [2018.01,11.46],[2017.75,10.73],[2017.89,9.47],[2018.05,9.04],[2018.14,8.9],[2018.10,8.55],[2018.20,8.41],[2018.26,8.62],[2018.28,9.26],[2017.90,8.13],
  [2018.14,7.71],[2018.15,7.39],[2018.36,7.64],[2017.68,7.4],[2017.82,6.56],[2017.95,6.83],[2018.06,6.47],[2017.73,5.51],[2017.84,5.7],[2017.86,5.25],
  [2018.06,5.58],[2017.97,4.76],[2018.02,4.3],[2017.95,4.03],[2017.86,3.88],[2018.02,3.71],[2017.94,2.86],[2017.72,2.3],[2017.63,1.88],[2018.05,2.09],
  [2018.16,2.34],[2018.33,2.43],[2017.78,1.6],[2018.11,1.52],
  // 2019 cluster
  [2018.62,20.07],[2018.92,19.89],[2018.89,19.13],[2018.63,17.33],[2018.62,12.33],[2018.66,11.33],[2018.84,11.47],[2018.93,11.57],[2018.87,12.02],[2018.72,9.14],
  [2018.85,9.3],[2018.80,8.23],[2018.72,6.97],[2018.81,6.91],[2018.85,5.46],[2018.67,4.65],[2018.95,4.03],[2018.95,1.32],
];

// participants without an age group, shown only in the overall sample
const ageUnknown: [number, number][] = [
  [2008.82,6.21],[2009.31,13.1],[2010.30,5.07],[2009.96,15.56],[2014.38,33.73],[2016.30,30.18],[2016.89,26.93],[2013.07,23.33],[2013.12,26.98],
  [2012.90,17.05],[2013.02,13.5],[2013.04,11.55],[2012.72,10.38],[2012.66,6.33],[2013.27,1.98],[2014.94,5.96],[2016.90,15.37],
];

// fitted regression lines, words in thousands at the first and last study year
const fits = [
  { key: "adults", color: "#ec1c24", start: 17.05, end: 12.65 },
  { key: "all", color: "#000000", start: 16.68, end: 11.9 },
  { key: "adolescents", color: "#2c3f9d", start: 16.65, end: 10.4 },
];
const fitYears = [2005, 2019];

const yearTicks = [2005, 2007, 2009, 2011, 2013, 2015, 2017, 2019];
const yearMinor = [2006, 2008, 2010, 2012, 2014, 2016, 2018];
const wordTicks = [0, 10, 20, 30, 40];
const wordMinor = [5, 15, 25, 35];

const legendTitle = "Age Group";
const legendItems = [
  { color: "#4848a6", lines: [[["Adolescents and Emerging Adults", false]], [["(< 25 years; ", false], ["n", true], [" = 980)", false]]] },
  { color: "#f03c3c", lines: [[["Early, Middle, and Older Adults", false]], [["(> 25 years; ", false], ["n", true], [" = 1,146)", false]]] },
  { color: "#a3a3a3", lines: [[["All Participants (", false], ["N", true], [" = 2,197)", false]]] },
];

const FONT = "'Liberation Sans', Arial, Helvetica, sans-serif";
const SQUEEZE = 0.9; // the original uses a slightly condensed face

const WordsChart = () => {
  const svgRef = useRef<SVGSVGElement | null>(null);

  useEffect(() => {
    document.body.style.margin = "0";
    const width = 2083;
    const height = 1194;
    const margin = { top: 6, right: 7, bottom: 107, left: 178 };
    const svg = d3.select(svgRef.current);
    svg.selectAll("*").remove();

    const x = d3.scaleLinear().domain([2004.3, 2019.7]).range([margin.left, width - margin.right]);
    const y = d3.scaleLinear().domain([-2.0, 42.1]).range([height - margin.bottom, margin.top]);
    const [x0, x1] = x.range();
    const [y0, y1] = y.range();

    svg.append("rect").attr("width", width).attr("height", height).attr("fill", "#fff");
    svg.append("rect")
      .attr("x", x0).attr("y", y1).attr("width", x1 - x0).attr("height", y0 - y1)
      .attr("fill", "#ebebeb");

    // grid
    const grid = svg.append("g");
    grid.selectAll(".vminor").data(yearMinor).join("line")
      .attr("x1", (d) => x(d)).attr("x2", (d) => x(d)).attr("y1", y0).attr("y2", y1)
      .attr("stroke", "#fff").attr("stroke-width", 1.1);
    grid.selectAll(".hminor").data(wordMinor).join("line")
      .attr("x1", x0).attr("x2", x1).attr("y1", (d) => y(d)).attr("y2", (d) => y(d))
      .attr("stroke", "#fff").attr("stroke-width", 1.1);
    grid.selectAll(".vmajor").data(yearTicks).join("line")
      .attr("x1", (d) => x(d)).attr("x2", (d) => x(d)).attr("y1", y0).attr("y2", y1)
      .attr("stroke", "#fff").attr("stroke-width", 2.2);
    grid.selectAll(".hmajor").data(wordTicks).join("line")
      .attr("x1", x0).attr("x2", x1).attr("y1", (d) => y(d)).attr("y2", (d) => y(d))
      .attr("stroke", "#fff").attr("stroke-width", 2.2);

    // points
    const drawPoints = (data: [number, number][], color: string) => {
      svg.append("g").selectAll("circle").data(data).join("circle")
        .attr("cx", (d) => x(d[0])).attr("cy", (d) => y(d[1])).attr("r", 3.9)
        .attr("fill", color).attr("fill-opacity", 0.85);
    };
    drawPoints(adolescents, "#4848a6");
    drawPoints(adults, "#f03c3c");
    drawPoints(ageUnknown, "#a3a3a3");

    // regression lines across the panel
    const [xa, xb] = x.domain();
    fits.forEach((f) => {
      const slope = (f.end - f.start) / (fitYears[1] - fitYears[0]);
      const at = (yr: number) => f.start + slope * (yr - fitYears[0]);
      svg.append("line")
        .attr("x1", x(xa)).attr("y1", y(at(xa))).attr("x2", x(xb)).attr("y2", y(at(xb)))
        .attr("stroke", f.color).attr("stroke-width", 5);
    });

    // axes
    const yAxis = svg.append("g").attr("transform", `translate(${x0},0)`)
      .call(d3.axisLeft(y).tickValues(wordTicks).tickSize(5.5).tickPadding(14.5)
        .tickFormat((d) => d3.format(",")((d as number) * 1000)));
    const xAxis = svg.append("g").attr("transform", `translate(0,${y0})`)
      .call(d3.axisBottom(x).tickValues(yearTicks).tickSize(5).tickPadding(10).tickFormat(d3.format("d")));
    [xAxis, yAxis].forEach((a) => {
      a.select(".domain").remove();
      a.selectAll("line").attr("stroke", "#333").attr("stroke-width", 1.6);
      a.selectAll<SVGTextElement, unknown>("text")
        .attr("font-family", FONT).attr("font-size", 35).attr("fill", "#1a1a1a")
        .each(function () {
          const ax = +(this.getAttribute("x") || 0);
          this.setAttribute("transform", `translate(${ax},0) scale(${SQUEEZE},1) translate(${-ax},0)`);
        });
    });

    svg.append("text")
      .attr("transform", `translate(${(x0 + x1) / 2},1180) scale(${SQUEEZE},1)`).attr("text-anchor", "middle")
      .attr("font-family", FONT).attr("font-size", 38).attr("fill", "#111")
      .text("Study Participation Year");
    svg.append("text")
      .attr("transform", `translate(37,${(y0 + y1) / 2}) rotate(-90) scale(${SQUEEZE},1)`).attr("text-anchor", "middle")
      .attr("font-family", FONT).attr("font-size", 37).attr("fill", "#111")
      .text("Estimated Daily Spoken Words");

    // legend
    const lg = svg.append("g");
    lg.append("rect").attr("x", 196).attr("y", 23).attr("width", 532).attr("height", 290).attr("fill", "#fff");
    lg.append("text").attr("transform", `translate(207,63) scale(${SQUEEZE},1)`)
      .attr("font-family", FONT).attr("font-size", 37).attr("fill", "#111").text(legendTitle);
    lg.append("rect").attr("x", 207).attr("y", 78).attr("width", 31.5).attr("height", 225).attr("fill", "#ebebeb");
    const dotY = [127, 223, 287];
    const lineY = [[104, 152], [200, 248], [298]];
    legendItems.forEach((item, i) => {
      lg.append("circle").attr("cx", 222.5).attr("cy", dotY[i]).attr("r", 3.9)
        .attr("fill", item.color).attr("fill-opacity", 0.85);
      item.lines.forEach((segs, j) => {
        const t = lg.append("text").attr("transform", `translate(252,${lineY[i][j]}) scale(${SQUEEZE},1)`)
          .attr("font-family", FONT).attr("font-size", 34).attr("fill", "#111");
        segs.forEach(([s, it]) => {
          t.append("tspan").attr("font-style", it ? "italic" : "normal").text(s as string);
        });
      });
    });
  }, []);

  return <svg ref={svgRef} width={2083} height={1194} style={{ display: "block" }}></svg>;
};

export default function App() {
  return <WordsChart />;
}
